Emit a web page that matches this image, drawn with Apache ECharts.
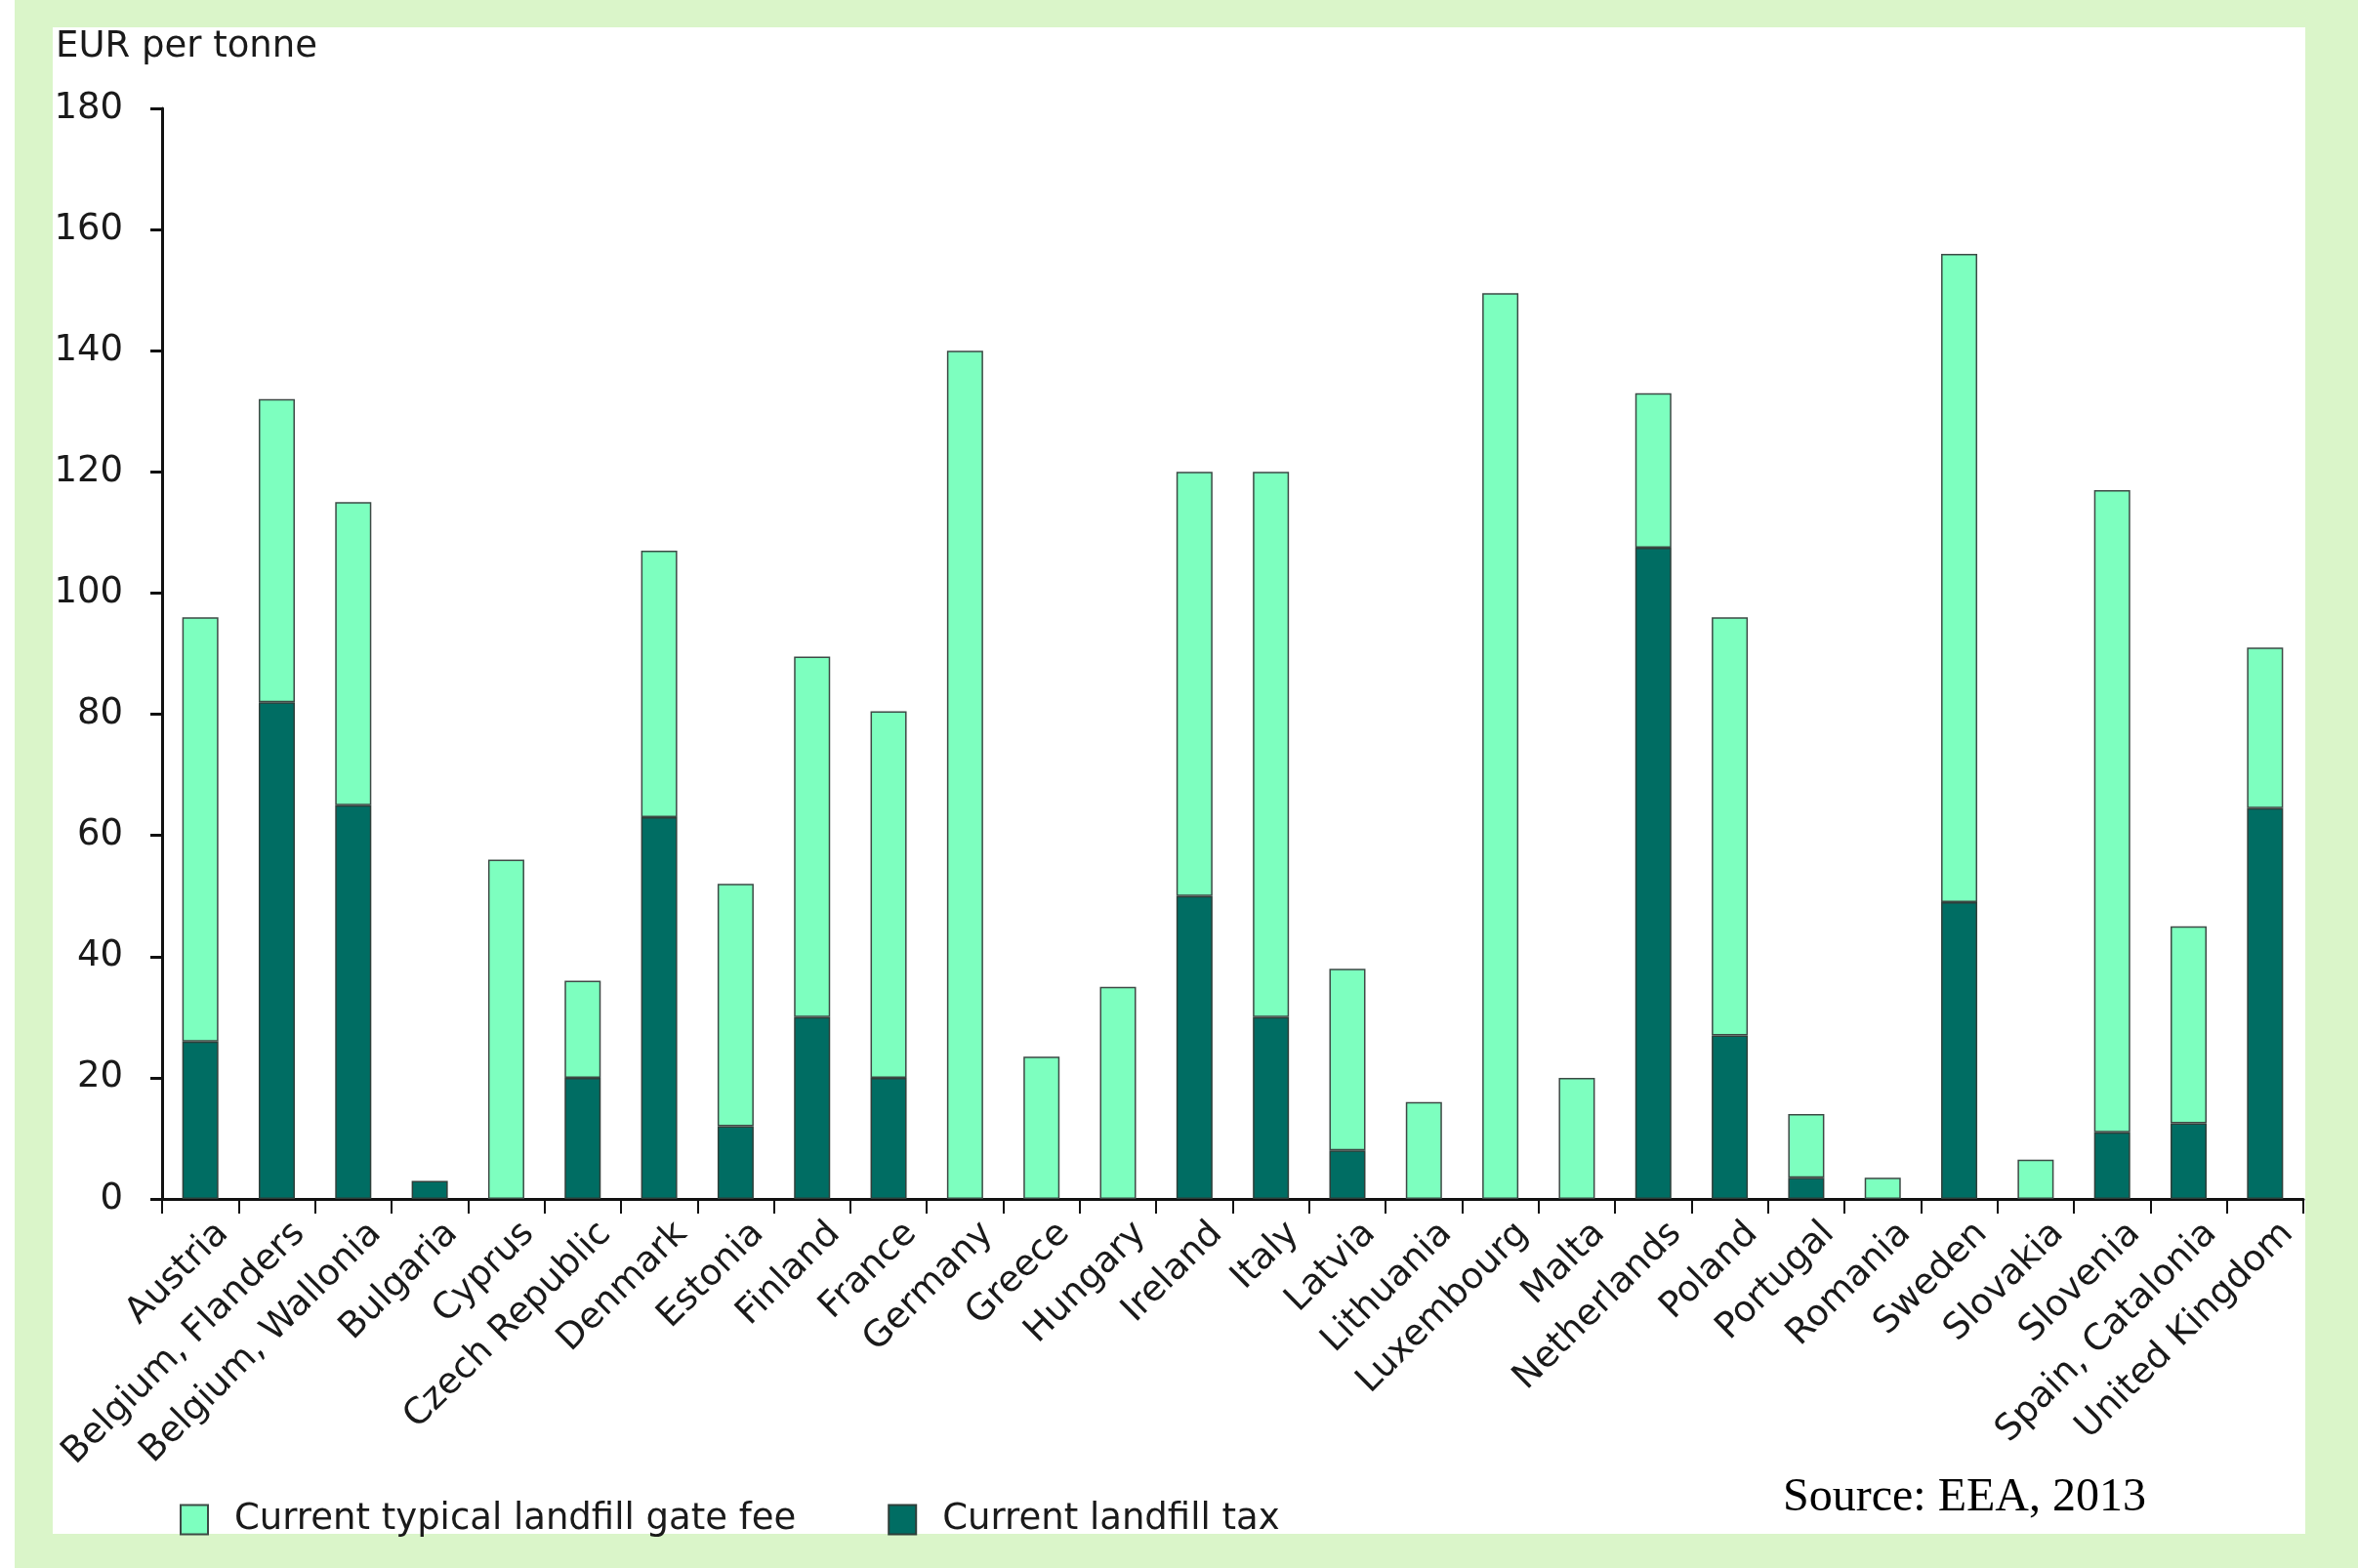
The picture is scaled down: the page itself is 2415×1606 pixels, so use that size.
<!DOCTYPE html>
<html>
<head>
<meta charset="utf-8">
<script src="https://cdn.jsdelivr.net/npm/echarts@6/dist/echarts.min.js"></script>
<style>
html,body{margin:0;padding:0;background:#daf5c9;}
#chart{width:2415px;height:1606px;}
</style>
</head>
<body>
<div id="chart"></div>
<script>
const categories = ["Austria","Belgium, Flanders","Belgium, Wallonia","Bulgaria","Cyprus","Czech Republic","Denmark","Estonia","Finland","France","Germany","Greece","Hungary","Ireland","Italy","Latvia","Lithuania","Luxembourg","Malta","Netherlands","Poland","Portugal","Romania","Sweden","Slovakia","Slovenia","Spain, Catalonia","United Kingdom"];
const landfillTax = [26,82,65,3,0,20,63,12,30,20,0,0,0,50,30,8,0,0,0,107.5,27,3.5,0,49,0,11,12.5,64.5];
const gateFee = [70,50,50,0,56,16,44,40,59.5,60.5,140,23.5,35,70,90,30,16,149.5,20,25.5,69,10.5,3.5,107,6.5,106,32.5,26.5];
const yTicks = [0,20,40,60,80,100,120,140,160,180];
const seriesNames = ["Current typical landfill gate fee","Current landfill tax"];

const chart = echarts.init(document.getElementById('chart'));
const font = 'DejaVu Sans';
const lightColor = '#7dffbf';
const darkColor = '#006d63';
chart.setOption({
  backgroundColor: '#daf5c9',
  animation: false,
  graphic: [
    {type:'rect', shape:{x:0,y:0,width:15,height:1606}, style:{fill:'#ffffff'}, z:-10},
    {type:'rect', shape:{x:54,y:28,width:2307,height:1543}, style:{fill:'#ffffff'}, z:-10},
    {type:'text', left:1826, top:1510, style:{text:'Source: EEA, 2013', font:'48px "Liberation Serif"', fill:'#000'}}
  ],
  grid: {left:166, right:56, top:111, bottom:378, containLabel:false},
  legend: {
    data: seriesNames,
    left: 179, top: 1533,
    itemWidth: 28, itemHeight: 30, itemGap: 94,
    icon: 'rect',
    textStyle: {fontFamily: font, fontSize: 37, color:'#1a1a1a', padding:[0,0,0,22]}
  },
  xAxis: {
    type:'category', data: categories,
    axisLine:{lineStyle:{color:'#111', width:3}},
    axisTick:{show:true, length:15, lineStyle:{color:'#111', width:2}},
    axisLabel:{rotate:45, fontFamily:font, fontSize:37, color:'#1a1a1a', margin:7, interval:0,
      verticalAlign:'top', padding:[14,0,0,0]}
  },
  yAxis: {
    type:'value', min:0, max:180, interval:20,
    name:'EUR per tonne', nameLocation:'end', nameGap:44,
    nameTextStyle:{fontFamily:font, fontSize:37, color:'#1a1a1a', align:'left', padding:[0,0,0,-109]},
    axisLine:{show:true, lineStyle:{color:'#111', width:3}},
    axisTick:{show:true, inside:false, length:12, lineStyle:{color:'#111', width:3}},
    splitLine:{show:false},
    axisLabel:{fontFamily:font, fontSize:37, color:'#1a1a1a', margin:40,
      formatter: v => yTicks.indexOf(v) >= 0 ? String(v) : ''}
  },
  series: [
    {
      name: seriesNames[1], type:'bar', stack:'total', barWidth:37,
      data: landfillTax.map(v => v === 0 ? '-' : v),
      itemStyle:{color:darkColor, borderColor:'#2f3f3a', borderWidth:1.5}
    },
    {
      name: seriesNames[0], type:'bar', stack:'total', barWidth:37,
      data: gateFee.map(v => v === 0 ? '-' : v),
      itemStyle:{color:lightColor, borderColor:'#3d4a45', borderWidth:1.5}
    }
  ]
});
</script>
</body>
</html>
